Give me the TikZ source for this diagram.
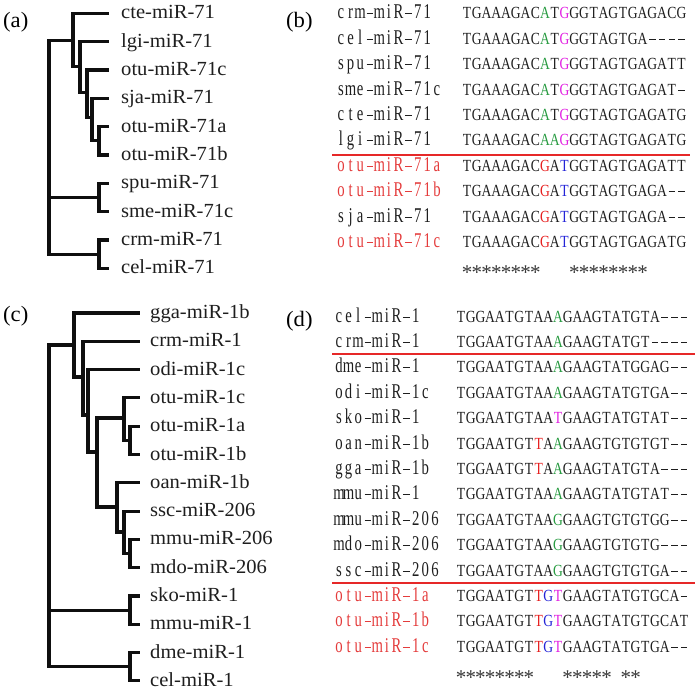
\documentclass[tikz,border=0pt]{standalone}
\usepackage{fontspec}
\setmainfont{Liberation Serif}
\newfontfamily\treefont[FakeStretch=1.03]{Liberation Serif}
\newfontfamily\seqfont[FakeStretch=0.8]{Liberation Serif}
\newfontfamily\namefont[FakeStretch=0.7]{Liberation Serif}
\newfontfamily\starfont{Liberation Serif}
\definecolor{tx}{RGB}{30,30,30}
\definecolor{br}{RGB}{15,15,15}
\definecolor{sg}{RGB}{40,155,65}
\definecolor{sm}{RGB}{225,30,225}
\definecolor{sr}{RGB}{230,30,30}
\definecolor{sb}{RGB}{35,35,215}
\definecolor{nr}{RGB}{228,60,60}
\definecolor{ln}{RGB}{230,40,40}
\definecolor{st}{RGB}{55,55,55}
\def\hyph{-}
\makeatletter
\newcommand\cells[2]{\@tfor\seqch:=#2\do{\makebox[#1]{\ifx\seqch\hyph\rule[4.6pt]{6.6pt}{0.9pt}\else\seqch\fi}}}
\makeatother
\newcommand\xg{\color{sg}}
\newcommand\xm{\color{sm}}
\newcommand\xr{\color{sr}}
\newcommand\xb{\color{sb}}
\tikzset{
  branch/.style={line width=3.1pt, draw=br, line join=miter, line cap=rect},
  leaf/.style={anchor=west, inner sep=0pt, text=tx, font=\treefont\fontsize{20}{20}\selectfont, text height=14pt, text depth=3pt},
  plabel/.style={anchor=west, inner sep=0pt, text=black, font=\treefont\fontsize{22}{22}\selectfont, text height=16pt, text depth=5pt},
  seq/.style={anchor=west, inner sep=0pt, text=tx, font=\seqfont\fontsize{17}{17}\selectfont, text height=12pt, text depth=2pt},
  nm/.style={anchor=west, inner sep=0pt, text=tx, font=\namefont\fontsize{21}{21}\selectfont, text height=12pt, text depth=2pt},
  rnm/.style={nm, text=nr},
  stars/.style={anchor=west, inner sep=0pt, text=st, font=\starfont\fontsize{21}{21}\selectfont, text height=12pt, text depth=2pt},
  redline/.style={draw=ln, line width=1.8pt}
}
\begin{document}
\begin{tikzpicture}[x=1pt, y=-1pt]
\useasboundingbox (0,0) rectangle (699,690);
% ---------------- panel labels
\node[plabel] (la) at (3,22) {(a)};
\node[plabel] (lb) at (286,22) {(b)};
\node[plabel] (lc) at (3,316) {(c)};
\node[plabel] (ld) at (286,321) {(d)};
% ---------------- tree (a)
\foreach \i/\y in {0/13.3,1/41.6,2/70.0,3/98.3,4/126.6,5/155.0,6/183.3,7/211.6,8/240.0,9/268.3}
  \coordinate (a-l\i) at (107,\y);
\coordinate (a-N5) at (99,140.8);
\coordinate (a-N4) at (92,117.5);
\coordinate (a-N3) at (87,92.5);
\coordinate (a-N2) at (80,66.5);
\coordinate (a-N1) at (73,40.5);
\coordinate (a-M) at (99,197.5);
\coordinate (a-B) at (99,254.2);
\coordinate (a-R) at (49,197.5);
\draw[branch] (a-l4) -| (a-N5) |- (a-l5);
\draw[branch] (a-l3) -| (a-N4) |- (a-N5);
\draw[branch] (a-l2) -| (a-N3) |- (a-N4);
\draw[branch] (a-l1) -| (a-N2) |- (a-N3);
\draw[branch] (a-l0) -| (a-N1) |- (a-N2);
\draw[branch] (a-l6) -| (a-M) |- (a-l7);
\draw[branch] (a-l8) -| (a-B) |- (a-l9);
\draw[branch] (a-N1) -| (a-R) |- (a-B);
\draw[branch] (a-R) -- (a-M);
\node[leaf] (a-t0) at (121,13.3) {cte-miR-71};
\node[leaf] (a-t1) at (121,41.6) {lgi-miR-71};
\node[leaf] (a-t2) at (121,70.0) {otu-miR-71c};
\node[leaf] (a-t3) at (121,98.3) {sja-miR-71};
\node[leaf] (a-t4) at (121,126.6) {otu-miR-71a};
\node[leaf] (a-t5) at (121,155.0) {otu-miR-71b};
\node[leaf] (a-t6) at (121,183.3) {spu-miR-71};
\node[leaf] (a-t7) at (121,211.6) {sme-miR-71c};
\node[leaf] (a-t8) at (121,240.0) {crm-miR-71};
\node[leaf] (a-t9) at (121,268.3) {cel-miR-71};
% ---------------- tree (c)
\foreach \i/\y in {0/313,1/341.3,2/369.6,3/397.9,4/426.2,5/454.5,6/482.8,7/511.1,8/539.4,9/567.7,10/596,11/624.3,12/652.6,13/680.9}
  \coordinate (c-l\i) at (138,\y);
\coordinate (c-P5) at (130,440.3);
\coordinate (c-P4) at (124,418);
\coordinate (c-Q3) at (130,553.5);
\coordinate (c-Q2) at (124,532);
\coordinate (c-Q1) at (117,507);
\coordinate (c-P3) at (97,452);
\coordinate (c-P2) at (88,415);
\coordinate (c-P1) at (83,377);
\coordinate (c-P0) at (74,345);
\coordinate (c-R1) at (130,610.1);
\coordinate (c-R2) at (130,666.7);
\coordinate (c-R) at (49,610.1);
\draw[branch] (c-l4) -| (c-P5) |- (c-l5);
\draw[branch] (c-l3) -| (c-P4) |- (c-P5);
\draw[branch] (c-l8) -| (c-Q3) |- (c-l9);
\draw[branch] (c-l7) -| (c-Q2) |- (c-Q3);
\draw[branch] (c-l6) -| (c-Q1) |- (c-Q2);
\draw[branch] (c-P4) -| (c-P3) |- (c-Q1);
\draw[branch] (c-l2) -| (c-P2) |- (c-P3);
\draw[branch] (c-l1) -| (c-P1) |- (c-P2);
\draw[branch] (c-l0) -| (c-P0) |- (c-P1);
\draw[branch] (c-l10) -| (c-R1) |- (c-l11);
\draw[branch] (c-l12) -| (c-R2) |- (c-l13);
\draw[branch] (c-P0) -| (c-R) |- (c-R2);
\draw[branch] (c-R) -- (c-R1);
\node[leaf] (c-t0) at (150,313) {gga-miR-1b};
\node[leaf] (c-t1) at (150,341.3) {crm-miR-1};
\node[leaf] (c-t2) at (150,369.6) {odi-miR-1c};
\node[leaf] (c-t3) at (150,397.9) {otu-miR-1c};
\node[leaf] (c-t4) at (150,426.2) {otu-miR-1a};
\node[leaf] (c-t5) at (150,454.5) {otu-miR-1b};
\node[leaf] (c-t6) at (150,482.8) {oan-miR-1b};
\node[leaf] (c-t7) at (150,511.1) {ssc-miR-206};
\node[leaf] (c-t8) at (150,539.4) {mmu-miR-206};
\node[leaf] (c-t9) at (150,567.7) {mdo-miR-206};
\node[leaf] (c-t10) at (150,596) {sko-miR-1};
\node[leaf] (c-t11) at (150,624.3) {mmu-miR-1};
\node[leaf] (c-t12) at (150,652.6) {dme-miR-1};
\node[leaf] (c-t13) at (150,680.9) {cel-miR-1};
% ---------------- alignment (b)
\node[nm] (b-n0) at (336,14) {\cells{9.6pt}{crm-miR-71}};
\node[nm] (b-n1) at (336,39.4) {\cells{9.6pt}{cel-miR-71}};
\node[nm] (b-n2) at (336,64.8) {\cells{9.6pt}{spu-miR-71}};
\node[nm] (b-n3) at (336,90.2) {\cells{9.6pt}{sme-miR-71c}};
\node[nm] (b-n4) at (336,115.6) {\cells{9.6pt}{cte-miR-71}};
\node[nm] (b-n5) at (336,141.0) {\cells{9.6pt}{lgi-miR-71}};
\node[rnm] (b-n6) at (336,166.4) {\cells{9.6pt}{otu-miR-71a}};
\node[rnm] (b-n7) at (336,191.8) {\cells{9.6pt}{otu-miR-71b}};
\node[nm] (b-n8) at (336,217.2) {\cells{9.6pt}{sja-miR-71}};
\node[rnm] (b-n9) at (336,242.6) {\cells{9.6pt}{otu-miR-71c}};
\node[seq] (b-s0) at (462,14) {\cells{9.75pt}{TGAAAGAC{\xg A}T{\xm G}GGTAGTGAGACG}};
\node[seq] (b-s1) at (462,39.4) {\cells{9.75pt}{TGAAAGAC{\xg A}T{\xm G}GGTAGTGA----}};
\node[seq] (b-s2) at (462,64.8) {\cells{9.75pt}{TGAAAGAC{\xg A}T{\xm G}GGTAGTGAGATT}};
\node[seq] (b-s3) at (462,90.2) {\cells{9.75pt}{TGAAAGAC{\xg A}T{\xm G}GGTAGTGAGAT-}};
\node[seq] (b-s4) at (462,115.6) {\cells{9.75pt}{TGAAAGAC{\xg A}T{\xm G}GGTAGTGAGATG}};
\node[seq] (b-s5) at (462,141.0) {\cells{9.75pt}{TGAAAGAC{\xg A}{\xg A}{\xm G}GGTAGTGAGATG}};
\node[seq] (b-s6) at (462,166.4) {\cells{9.75pt}{TGAAAGAC{\xr G}A{\xb T}GGTAGTGAGATT}};
\node[seq] (b-s7) at (462,191.8) {\cells{9.75pt}{TGAAAGAC{\xr G}A{\xb T}GGTAGTGAGA--}};
\node[seq] (b-s8) at (462,217.2) {\cells{9.75pt}{TGAAAGAC{\xr G}A{\xb T}GGTAGTGAGA--}};
\node[seq] (b-s9) at (462,242.6) {\cells{9.75pt}{TGAAAGAC{\xr G}A{\xb T}GGTAGTGAGATG}};
\node[stars] (b-st) at (462,268) {\raisebox{-6.5pt}{\cells{9.75pt}{********~~~********}}};
\coordinate (b-L1) at (332,155);
\coordinate (b-L2) at (690,155);
\draw[redline] (b-L1) -- (b-L2);
% ---------------- alignment (d)
\node[nm] (d-n0) at (334,317) {\cells{9.6pt}{cel-miR-1}};
\node[nm] (d-n1) at (334,342.4) {\cells{9.6pt}{crm-miR-1}};
\node[nm] (d-n2) at (334,367.8) {\cells{9.6pt}{dme-miR-1}};
\node[nm] (d-n3) at (334,393.2) {\cells{9.6pt}{odi-miR-1c}};
\node[nm] (d-n4) at (334,418.6) {\cells{9.6pt}{sko-miR-1}};
\node[nm] (d-n5) at (334,444) {\cells{9.6pt}{oan-miR-1b}};
\node[nm] (d-n6) at (334,469.4) {\cells{9.6pt}{gga-miR-1b}};
\node[nm] (d-n7) at (334,494.8) {\cells{9.6pt}{mmu-miR-1}};
\node[nm] (d-n8) at (334,520.2) {\cells{9.6pt}{mmu-miR-206}};
\node[nm] (d-n9) at (334,545.6) {\cells{9.6pt}{mdo-miR-206}};
\node[nm] (d-n10) at (334,571) {\cells{9.6pt}{ssc-miR-206}};
\node[rnm] (d-n11) at (334,596.4) {\cells{9.6pt}{otu-miR-1a}};
\node[rnm] (d-n12) at (334,621.8) {\cells{9.6pt}{otu-miR-1b}};
\node[rnm] (d-n13) at (334,647.2) {\cells{9.6pt}{otu-miR-1c}};
\node[seq] (d-s0) at (456,317) {\cells{9.7pt}{TGGAATGTAA{\xg A}GAAGTATGTA---}};
\node[seq] (d-s1) at (456,342.4) {\cells{9.7pt}{TGGAATGTAA{\xg A}GAAGTATGT----}};
\node[seq] (d-s2) at (456,367.8) {\cells{9.7pt}{TGGAATGTAA{\xg A}GAAGTATGGAG--}};
\node[seq] (d-s3) at (456,393.2) {\cells{9.7pt}{TGGAATGTAA{\xg A}GAAGTATGTGA--}};
\node[seq] (d-s4) at (456,418.6) {\cells{9.7pt}{TGGAATGTAA{\xm T}GAAGTATGTAT--}};
\node[seq] (d-s5) at (456,444) {\cells{9.7pt}{TGGAATGT{\xr T}A{\xg A}GAAGTGTGTGT--}};
\node[seq] (d-s6) at (456,469.4) {\cells{9.7pt}{TGGAATGT{\xr T}A{\xg A}GAAGTATGTA---}};
\node[seq] (d-s7) at (456,494.8) {\cells{9.7pt}{TGGAATGTAA{\xg A}GAAGTATGTAT--}};
\node[seq] (d-s8) at (456,520.2) {\cells{9.7pt}{TGGAATGTAA{\xg G}GAAGTGTGTGG--}};
\node[seq] (d-s9) at (456,545.6) {\cells{9.7pt}{TGGAATGTAA{\xg G}GAAGTGTGTG---}};
\node[seq] (d-s10) at (456,571) {\cells{9.7pt}{TGGAATGTAA{\xg G}GAAGTGTGTGA--}};
\node[seq] (d-s11) at (456,596.4) {\cells{9.7pt}{TGGAATGT{\xr T}{\xb G}{\xm T}GAAGTATGTGCA-}};
\node[seq] (d-s12) at (456,621.8) {\cells{9.7pt}{TGGAATGT{\xr T}{\xb G}{\xm T}GAAGTATGTGCAT}};
\node[seq] (d-s13) at (456,647.2) {\cells{9.7pt}{TGGAATGT{\xr T}{\xb G}{\xm T}GAAGTATGTGA--}};
\node[stars] (d-st) at (456,672.6) {\raisebox{-6.5pt}{\cells{9.7pt}{********~~~*****~**}}};
\coordinate (d-L1) at (332,354);
\coordinate (d-L2) at (695,354);
\coordinate (d-L3) at (332,583);
\coordinate (d-L4) at (695,583);
\draw[redline] (d-L1) -- (d-L2);
\draw[redline] (d-L3) -- (d-L4);
\end{tikzpicture}
\end{document}
